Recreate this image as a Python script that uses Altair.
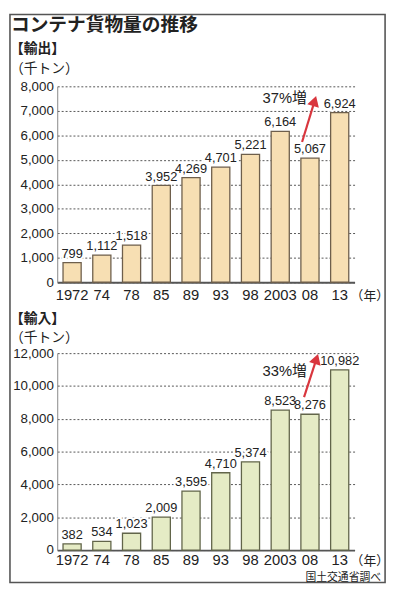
import altair as alt
import pandas as pd

# ---- data ----
years = ["1972", "74", "78", "85", "89", "93", "98", "2003", "08", "13"]
exports = [799, 1112, 1518, 3952, 4269, 4701, 5221, 6164, 5067, 6924]
imports = [382, 534, 1023, 2009, 3595, 4710, 5374, 8523, 8276, 10982]

title_text = "コンテナ貨物量の推移"
export_label = "【輸出】"
import_label = "【輸入】"
unit_label = "（千トン）"
year_unit = "（年）"
export_note = "37%増"
import_note = "33%増"
source_text = "国土交通省調べ"

NUM_FONT = "Liberation Sans"
NARROW = "Liberation Sans Narrow, Liberation Sans"
JP_FONT = "Noto Sans CJK JP"
MIX_FONT = "Liberation Sans, Noto Sans CJK JP"

W = 302
one = pd.DataFrame({"k": [0]})


def txt(text, x, y, size, font=JP_FONT, weight="normal", align="left", color="#222"):
    return alt.Chart(one).mark_text(
        text=text, font=font, fontSize=size, fontWeight=weight, align=align,
        baseline="alphabetic", color=color
    ).encode(x=alt.value(x), y=alt.value(y))


def arrow(x0, y0, x1, y1, ang):
    line = alt.Chart(one).mark_rule(color="#d9363e", strokeWidth=2.2).encode(
        x=alt.value(x0), y=alt.value(y0), x2=alt.value(x1), y2=alt.value(y1))
    head = alt.Chart(one).mark_point(
        shape="triangle-up", filled=True, color="#d9363e", opacity=1, size=150, angle=ang
    ).encode(x=alt.value(x1), y=alt.value(y1))
    return line + head


def panel(values, ymax, step, fill, stroke, lpad):
    df = pd.DataFrame({"year": years, "value": values})
    xenc = alt.X("year:N", sort=years, title=None,
                 scale=alt.Scale(paddingInner=0.39, paddingOuter=0.195),
                 axis=alt.Axis(labelAngle=0, labelFont=NARROW, labelFontSize=15,
                               labelColor="#222", labelPadding=lpad, ticks=False,
                               domainColor="#555", domainWidth=1.8))
    yenc = alt.Y("value:Q", title=None,
                 scale=alt.Scale(domain=[0, ymax], nice=False),
                 axis=alt.Axis(values=list(range(0, ymax + 1, step)), format=",d",
                               labelFont=NUM_FONT, labelFontSize=13.5, labelColor="#222",
                               labelPadding=4, ticks=False, domainColor="#888",
                               domainWidth=1, gridColor="#555", gridDash=[2, 2],
                               gridWidth=1))
    base = alt.Chart(df).encode(x=xenc, y=yenc)
    bars = base.mark_bar(fill=fill, stroke=stroke, strokeWidth=1.3)
    halo = base.mark_text(font=NARROW, fontSize=13, dy=-5, baseline="alphabetic",
                          stroke="white", strokeWidth=4, color="white").encode(
        text=alt.Text("value:Q", format=",d"))
    labels = base.mark_text(font=NARROW, fontSize=13, dy=-5, baseline="alphabetic",
                            color="#222").encode(text=alt.Text("value:Q", format=",d"))
    return bars, halo, labels


# ---- top panel (exports) ----
H1 = 199
b1, h1, l1 = panel(exports, 8000, 1000, "#f7dfb3", "#6e5f4c", 6)
frame = alt.Chart(one).mark_rect(fillOpacity=0, stroke="#555", strokeWidth=1.6).encode(
    x=alt.value(-48), x2=alt.value(333), y=alt.value(-73), y2=alt.value(504))
top = alt.layer(
    frame, b1, h1, l1,
    txt(title_text, -47, -56, 19, weight="bold"),
    txt(export_label, -48, -34, 14, weight="bold"),
    txt(unit_label, -48, -14, 14),
    txt(year_unit, 298, 217, 13),
    txt(export_note, 231, 17, 15, font=MIX_FONT, align="center"),
    arrow(248.7, 56.5, 261.4, 15.0, 17),
).properties(width=W, height=H1)

# ---- bottom panel (imports) ----
H2 = 200
b2, h2, l2 = panel(imports, 12000, 2000, "#e5ebc5", "#62654a", 3)
bottom = alt.layer(
    b2, h2, l2,
    txt(import_label, -48, -31, 14, weight="bold"),
    txt(unit_label, -48, -11, 14),
    txt(year_unit, 298, 215, 13),
    txt(import_note, 231, 23, 15, font=MIX_FONT, align="center"),
    arrow(250.7, 44.6, 263.3, 5.9, 18),
    txt(source_text, 329, 231, 11, align="right"),
).properties(width=W, height=H2)

chart = alt.vconcat(top, bottom, spacing=72, bounds="flush").properties(
    padding=0, background="white"
).configure_view(stroke="transparent")

chart.save("out.html", embed_options={"renderer": "svg", "actions": False})
